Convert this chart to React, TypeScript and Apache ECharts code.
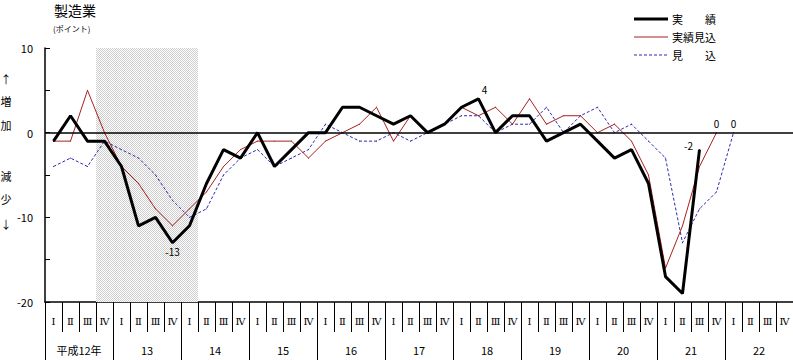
import React, { useEffect, useRef } from "react";
import * as echarts from "echarts";

const years = ["平成12年", "13", "14", "15", "16", "17", "18", "19", "20", "21", "22"];
const quarterLabels = ["Ⅰ", "Ⅱ", "Ⅲ", "Ⅳ"];

// 実績 (actual)
const actual: (number | null)[] = [
  -1, 2, -1, -1,
  -4, -11, -10, -13,
  -11, -6, -2, -3,
  0, -4, -2, 0,
  0, 3, 3, 2,
  1, 2, 0, 1,
  3, 4, 0, 2,
  2, -1, 0, 1,
  -1, -3, -2, -6,
  -17, -19, -2, null,
  null, null, null, null,
];

// 実績見込 (actual estimate)
const actualEstimate: (number | null)[] = [
  -1, -1, 5, 0,
  -4, -6, -9, -11,
  -9, -7, -4, -2,
  -1, -1, -1, -3,
  -1, 0, 1, 3,
  -1, 2, 0, 1,
  3, 2, 3, 1,
  4, 1, 2, 2,
  0, 1, -1, -5,
  -16, -11, -4, 0,
  null, null, null, null,
];

// 見込 (forecast)
const forecast: (number | null)[] = [
  -4, -3, -4, -1,
  -2, -3, -5, -8,
  -10, -9, -5, -3,
  -2, -4, -3, -2,
  1, 0, -1, -1,
  0, -1, 0, 1,
  2, 2, 0, 1,
  1, 3, 0, 2,
  3, 0, 1, -1,
  -3, -13, -9, -7,
  0, null, null, null,
];

// shaded period: from start of quarter index 3 to end of quarter index 8
const shadeRange = [3, 9];

const yTicks = { min: -20, max: 10, interval: 5 };

const seriesNames = ["実　　績", "実績見込", "見　　込"];
const seriesColors = ["#000000", "#a82020", "#2b2bb0"];

const FONT = "'Noto Sans CJK JP', 'Noto Sans', sans-serif";

export default function App() {
  const ref = useRef<HTMLDivElement>(null);

  useEffect(() => {
    document.body.style.margin = "0";
    if (!ref.current) return;
    const chart = echarts.init(ref.current, undefined, { renderer: "svg" });

    const categories: string[] = [];
    years.forEach(() => quarterLabels.forEach((q) => categories.push(q)));

    const cv = document.createElement("canvas");
    cv.width = 2;
    cv.height = 2;
    const ctx = cv.getContext("2d");
    if (ctx) {
      ctx.fillStyle = "#ffffff";
      ctx.fillRect(0, 0, 2, 2);
      ctx.fillStyle = "#cdcdcd";
      ctx.fillRect(0, 0, 1, 1);
      ctx.fillRect(1, 1, 1, 1);
    }

    const lbl = (extra: any) => ({
      show: true,
      color: "#000",
      fontSize: 10,
      fontFamily: FONT,
      formatter: "{c}",
      ...extra,
    });

    const actualData = actual.map((v, i) => {
      if (i === 7) return { value: v, label: lbl({ position: "bottom", distance: 3 }) };
      if (i === 25) return { value: v, label: lbl({ position: "top", distance: 4, offset: [6, 0] }) };
      if (i === 38) return { value: v, label: lbl({ position: "left", distance: 6, offset: [0, -4] }) };
      return v;
    });
    const estData = actualEstimate.map((v, i) =>
      i === 39 ? { value: v, label: lbl({ position: "top", distance: 4 }) } : v
    );
    const fcData = forecast.map((v, i) =>
      i === 40 ? { value: v, label: lbl({ position: "top", distance: 4 }) } : v
    );

    const legendX = 634;
    const legendY = [19, 37, 55];
    const legendWidths = [3, 1, 1];
    const legendDash: any[] = [null, null, [3, 2]];
    const legendGraphics: any[] = [];
    seriesNames.forEach((n, i) => {
      legendGraphics.push({
        type: "line",
        shape: { x1: legendX, y1: legendY[i], x2: legendX + 34, y2: legendY[i] },
        style: { stroke: seriesColors[i], lineWidth: legendWidths[i], lineDash: legendDash[i] },
      });
      legendGraphics.push({
        type: "text",
        x: legendX + 38,
        y: legendY[i],
        style: { text: n, fontSize: 11, fill: "#000", verticalAlign: "middle", fontFamily: FONT },
      });
    });

    const sideText = [
      ["↑", 79],
      ["増", 101],
      ["加", 125],
      ["減", 176],
      ["少", 199],
      ["↓", 224],
    ];

    const option: any = {
      animation: false,
      textStyle: { fontFamily: FONT },
      grid: { left: 45, right: 0, top: 48, bottom: 58, containLabel: false },
      xAxis: [
        {
          type: "category",
          data: categories,
          position: "bottom",
          boundaryGap: true,
          axisLine: { show: true, onZero: false, lineStyle: { color: "#000", width: 1.5 } },
          axisTick: { show: true, interval: 0, length: 30, lineStyle: { color: "#000", width: 1 } },
          axisLabel: { interval: 0, fontSize: 10, color: "#000", margin: 14, fontFamily: "'DejaVu Serif', serif" },
          splitLine: { show: false },
        },
        {
          type: "category",
          data: years,
          position: "bottom",
          boundaryGap: true,
          axisLine: { show: false, onZero: false },
          axisTick: { show: true, interval: 0, length: 60, lineStyle: { color: "#000", width: 1 } },
          axisLabel: { interval: 0, fontSize: 11, color: "#000", margin: 42 },
          splitLine: { show: false },
        },
        {
          type: "value",
          min: 0,
          max: categories.length,
          show: false,
        },
      ],
      yAxis: {
        type: "value",
        min: yTicks.min,
        max: yTicks.max,
        interval: yTicks.interval,
        axisLine: { show: true, onZero: false, lineStyle: { color: "#000", width: 1.5 } },
        axisTick: { show: true, inside: true, length: 5, lineStyle: { color: "#000", width: 1 } },
        axisLabel: {
          fontSize: 11,
          color: "#000",
          margin: 12,
          formatter: (v: number) => (v % 10 === 0 ? String(v) : ""),
        },
        splitLine: { show: false },
      },
      graphic: [
        { type: "text", left: 54, top: 3, style: { text: "製造業", fontSize: 14, fill: "#000", fontFamily: FONT } },
        { type: "text", left: 53, top: 24, style: { text: "(ポイント)", fontSize: 8, fill: "#000", fontFamily: FONT } },
        ...sideText.map(([t, y]) => ({
          type: "text",
          x: 6,
          y: y as number,
          style: { text: t as string, fontSize: 11, fill: "#000", align: "center", verticalAlign: "middle", fontFamily: FONT },
        })),
        ...legendGraphics,
      ],
      series: [
        {
          type: "line",
          xAxisIndex: 2,
          data: [[0, -20]],
          symbol: "none",
          lineStyle: { opacity: 0 },
          silent: true,
          z: 0,
          markArea: {
            silent: true,
            itemStyle: { color: { image: cv, repeat: "repeat" } },
            data: [[{ xAxis: shadeRange[0] }, { xAxis: shadeRange[1] }]],
          },
        },
        {
          name: seriesNames[2],
          type: "line",
          data: fcData,
          symbol: "circle",
          symbolSize: 1,
          showSymbol: true,
          itemStyle: { color: seriesColors[2] },
          lineStyle: { color: seriesColors[2], width: 1, type: [3, 2] },
          z: 3,
        },
        {
          name: seriesNames[1],
          type: "line",
          data: estData,
          symbol: "circle",
          symbolSize: 1,
          showSymbol: true,
          itemStyle: { color: seriesColors[1] },
          lineStyle: { color: seriesColors[1], width: 1 },
          z: 4,
        },
        {
          name: seriesNames[0],
          type: "line",
          data: actualData,
          symbol: "circle",
          symbolSize: 1,
          showSymbol: true,
          itemStyle: { color: seriesColors[0] },
          lineStyle: { color: seriesColors[0], width: 3 },
          z: 5,
          markLine: {
            silent: true,
            symbol: ["none", "none"],
            label: { show: false },
            lineStyle: { color: "#000", width: 1.5, type: "solid" },
            data: [{ yAxis: 0 }],
          },
        },
      ],
    };

    chart.setOption(option);
    return () => chart.dispose();
  }, []);

  return <div ref={ref} style={{ width: 793, height: 360 }} />;
}
